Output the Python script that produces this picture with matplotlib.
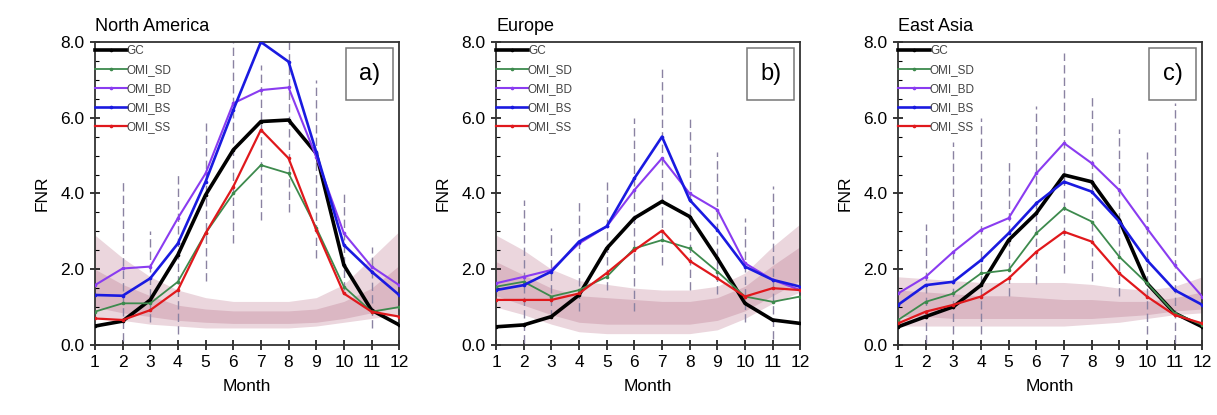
import numpy as np
import matplotlib
matplotlib.use("Agg")
import matplotlib.pyplot as plt
from matplotlib.patches import Rectangle

plt.rcParams['font.family'] = ['Liberation Sans', 'DejaVu Sans']

months = list(range(1, 13))
regions = ["North America", "Europe", "East Asia"]
panel_tags = ["a)", "b)", "c)"]
series_names = ["GC", "OMI_SD", "OMI_BD", "OMI_BS", "OMI_SS"]

# Monthly mean FNR per region
na_gc = [0.50, 0.63, 1.19, 2.38, 3.96, 5.15, 5.90, 5.94, 5.06, 2.11, 0.92, 0.53]
na_sd = [0.88, 1.10, 1.10, 1.67, 2.95, 4.00, 4.75, 4.53, 3.10, 1.54, 0.88, 1.00]
na_bd = [1.58, 2.02, 2.07, 3.35, 4.53, 6.38, 6.73, 6.80, 4.97, 2.95, 2.07, 1.58]
na_bs = [1.32, 1.30, 1.76, 2.68, 4.31, 6.20, 8.00, 7.48, 5.10, 2.64, 1.94, 1.32]
na_ss = [0.70, 0.66, 0.92, 1.45, 2.95, 4.18, 5.68, 4.93, 3.04, 1.36, 0.88, 0.75]

eu_gc = [0.48, 0.53, 0.75, 1.32, 2.55, 3.35, 3.79, 3.39, 2.29, 1.10, 0.66, 0.57]
eu_sd = [1.54, 1.67, 1.28, 1.45, 1.80, 2.55, 2.77, 2.55, 1.94, 1.28, 1.14, 1.28]
eu_bd = [1.63, 1.80, 1.98, 2.68, 3.13, 4.09, 4.93, 4.00, 3.57, 2.16, 1.72, 1.45]
eu_bs = [1.45, 1.58, 1.94, 2.73, 3.13, 4.40, 5.50, 3.83, 3.04, 2.07, 1.72, 1.54]
eu_ss = [1.19, 1.19, 1.19, 1.36, 1.90, 2.50, 3.02, 2.22, 1.76, 1.28, 1.50, 1.45]

ea_gc = [0.48, 0.75, 1.01, 1.58, 2.77, 3.48, 4.49, 4.31, 3.30, 1.63, 0.84, 0.48]
ea_sd = [0.66, 1.14, 1.36, 1.89, 1.98, 2.95, 3.61, 3.26, 2.33, 1.63, 0.84, 0.53]
ea_bd = [1.36, 1.80, 2.46, 3.04, 3.35, 4.53, 5.33, 4.80, 4.09, 3.08, 2.11, 1.28]
ea_bs = [1.06, 1.58, 1.67, 2.24, 2.95, 3.74, 4.31, 4.05, 3.26, 2.24, 1.45, 1.06]
ea_ss = [0.57, 0.88, 1.06, 1.28, 1.76, 2.46, 2.99, 2.73, 1.89, 1.28, 0.79, 0.57]

# Monthly spread (min / max) shown as vertical bars
nan = np.nan
na_lo = [nan, 0.10, 0.60, 0.30, 1.70, 2.70, 3.30, 3.50, 2.30, 1.45, 0.45, nan]
na_hi = [nan, 4.35, 3.00, 4.50, 5.85, 8.00, 7.40, 8.00, 7.00, 4.00, 2.60, nan]
eu_lo = [nan, 0.05, 0.70, 0.90, 1.45, 0.90, 2.10, 1.45, 1.35, 0.60, 0.15, nan]
eu_hi = [nan, 3.83, 3.10, 3.80, 4.30, 6.00, 7.40, 6.00, 5.10, 3.35, 4.20, nan]
ea_lo = [nan, 0.05, 0.30, 0.30, 1.30, 1.60, 1.90, 1.70, 1.30, 0.30, 0.05, nan]
ea_hi = [nan, 3.20, 5.35, 6.00, 4.90, 6.30, 7.70, 6.60, 5.70, 5.10, 6.40, nan]

# Transition-regime FNR thresholds: outer (light) and inner (dark) bands
na_out_lo = [0.75, 0.65, 0.55, 0.50, 0.45, 0.45, 0.45, 0.45, 0.50, 0.60, 0.70, 0.80]
na_out_hi = [2.90, 2.30, 1.80, 1.45, 1.25, 1.15, 1.15, 1.15, 1.25, 1.60, 2.30, 3.00]
na_in_lo = [1.00, 0.85, 0.75, 0.65, 0.60, 0.57, 0.57, 0.57, 0.60, 0.70, 0.85, 1.00]
na_in_hi = [2.00, 1.60, 1.30, 1.05, 0.95, 0.90, 0.90, 0.90, 0.95, 1.15, 1.50, 2.10]

eu_out_lo = [1.00, 0.80, 0.55, 0.35, 0.30, 0.30, 0.30, 0.30, 0.40, 0.70, 1.10, 1.40]
eu_out_hi = [2.90, 2.50, 2.00, 1.70, 1.60, 1.50, 1.45, 1.45, 1.55, 1.90, 2.60, 3.20]
eu_in_lo = [1.30, 1.05, 0.80, 0.60, 0.55, 0.55, 0.55, 0.55, 0.65, 0.90, 1.30, 1.70]
eu_in_hi = [2.20, 1.85, 1.50, 1.30, 1.25, 1.20, 1.15, 1.15, 1.25, 1.55, 2.10, 2.60]

ea_out_lo = [0.50, 0.50, 0.50, 0.50, 0.50, 0.50, 0.50, 0.55, 0.60, 0.70, 0.80, 0.85]
ea_out_hi = [1.80, 1.75, 1.70, 1.65, 1.65, 1.65, 1.65, 1.60, 1.50, 1.45, 1.55, 1.80]
ea_in_lo = [0.75, 0.75, 0.70, 0.70, 0.70, 0.70, 0.70, 0.70, 0.75, 0.80, 0.90, 0.95]
ea_in_hi = [1.45, 1.40, 1.35, 1.30, 1.30, 1.25, 1.20, 1.20, 1.15, 1.15, 1.25, 1.40]

panels = [
    dict(series=[na_gc, na_sd, na_bd, na_bs, na_ss], lo=na_lo, hi=na_hi,
         out=(na_out_lo, na_out_hi), inn=(na_in_lo, na_in_hi)),
    dict(series=[eu_gc, eu_sd, eu_bd, eu_bs, eu_ss], lo=eu_lo, hi=eu_hi,
         out=(eu_out_lo, eu_out_hi), inn=(eu_in_lo, eu_in_hi)),
    dict(series=[ea_gc, ea_sd, ea_bd, ea_bs, ea_ss], lo=ea_lo, hi=ea_hi,
         out=(ea_out_lo, ea_out_hi), inn=(ea_in_lo, ea_in_hi)),
]

colors = ["#000000", "#3d8a4d", "#8a3cf0", "#1a1ae0", "#e0181c"]
widths = [2.6, 1.3, 1.5, 1.9, 1.6]

fig = plt.figure(figsize=(12.17, 4.15), dpi=100)
lefts = [0.078, 0.4076, 0.7379]
axw, bottom, axh = 0.2500, 0.1687, 0.7301

for i, p in enumerate(panels):
    ax = fig.add_axes([lefts[i], bottom, axw, axh])
    x = np.array(months)

    ax.fill_between(x, p["out"][0], p["out"][1], color="#ebd6dd", lw=0, zorder=1)
    ax.fill_between(x, p["inn"][0], p["inn"][1], color="#dbb7c3", lw=0, zorder=1.1)

    ax.vlines(x, p["lo"], p["hi"], colors="#8a82a2", linewidth=1.0,
              linestyles=(0, (6, 3)), zorder=2)

    for name, vals, c, w in zip(series_names, p["series"], colors, widths):
        ax.plot(x, vals, color=c, lw=w, marker="o", ms=1.6, label=name, zorder=3)

    ax.set_xlim(1, 12)
    ax.set_ylim(0, 8)
    ax.set_xticks(months)
    ax.set_yticks([0, 2, 4, 6, 8])
    ax.set_yticklabels(["0.0", "2.0", "4.0", "6.0", "8.0"])
    ax.set_yticks(np.arange(0, 8.01, 0.5), minor=True)
    ax.tick_params(axis="both", which="major", labelsize=12.5, direction="inout",
                   length=7, width=1.1, pad=4)
    ax.tick_params(axis="y", which="minor", direction="in", length=3, width=0.8)
    ax.tick_params(top=False, right=False)
    for s in ax.spines.values():
        s.set_linewidth(1.3)
        s.set_color("#333333")

    ax.set_xlabel("Month", fontsize=12.5, labelpad=6)
    ax.set_ylabel("FNR", fontsize=12.5, labelpad=8)
    ax.set_title(regions[i], loc="left", fontsize=13, pad=8)

    leg = ax.legend(loc="upper left", bbox_to_anchor=(0.0, 0.99), frameon=False,
                    fontsize=8.5, handlelength=2.7, handletextpad=0.0,
                    labelspacing=0.6, borderaxespad=0.0, borderpad=0.0)
    for t in leg.get_texts():
        t.set_color("#444444")

    ax.add_patch(Rectangle((0.825, 0.81), 0.155, 0.17, transform=ax.transAxes,
                           fill=False, edgecolor="#777777", lw=1.1, zorder=4))
    ax.text(0.9025, 0.895, panel_tags[i], transform=ax.transAxes, fontsize=17,
            ha="center", va="center", zorder=5)

fig.savefig("out.png", dpi=100)
